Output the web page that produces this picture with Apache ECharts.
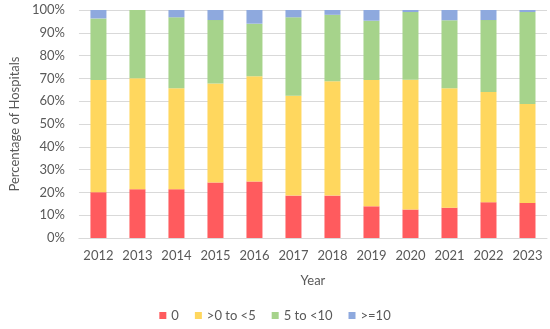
<!DOCTYPE html>
<html><head><meta charset="utf-8">
<script src="https://cdn.jsdelivr.net/npm/echarts@6/dist/echarts.min.js"></script>
<style>html,body{margin:0;padding:0;background:#fff}#c{width:550px;height:329px}</style>
</head><body><div id="c"></div>
<script>
const years = ['2012','2013','2014','2015','2016','2017','2018','2019','2020','2021','2022','2023'];
const zero = [20.1,21.4,21.4,24.3,24.8,18.6,18.6,13.9,12.5,13.3,15.7,15.4];
const lt5 = [49.2,48.7,44.3,43.5,46.1,43.8,50.1,55.4,56.9,52.4,48.3,43.4];
const lt10 = [27.0,29.9,31.1,27.8,23.1,34.4,29.2,26.0,29.7,29.8,31.6,40.3];
const ge10 = [3.7,0,3.2,4.4,6.0,3.2,2.1,4.7,0.9,4.5,4.4,0.9];
const seriesNames = ['0','>0 to <5','5 to <10','>=10'];
const colors = ['#FF5B5E','#FFD75E','#A6D38B','#8EA9DE'];
const font = 'Lato, "Open Sans", sans-serif';
const chart = echarts.init(document.getElementById('c'));
const data = [zero, lt5, lt10, ge10];
chart.setOption({
  animation:false,
  textStyle:{fontFamily:font,color:'#595959'},
  grid:{left:69,right:3,top:10,bottom:91},
  legend:{bottom:2,left:'center',itemWidth:7,itemHeight:7,itemGap:16,icon:'rect',
    textStyle:{fontFamily:font,fontSize:13,color:'#595959'},data:seriesNames},
  xAxis:{type:'category',data:years,name:'Year',nameLocation:'middle',nameGap:36,
    nameTextStyle:{fontFamily:font,fontSize:13,color:'#595959'},
    axisLine:{lineStyle:{color:'#D9D9D9'}},axisTick:{show:false},
    axisLabel:{interval:0,fontFamily:font,fontSize:13,color:'#595959',margin:11}},
  yAxis:{type:'value',min:0,max:100,interval:10,name:'Percentage of Hospitals',nameLocation:'middle',nameGap:50,
    nameTextStyle:{fontFamily:font,fontSize:13,color:'#595959'},
    axisLabel:{formatter:'{value}%',fontFamily:font,fontSize:13,color:'#595959',margin:14},
    splitLine:{lineStyle:{color:'#D9D9D9'}},axisLine:{show:false},axisTick:{show:false}},
  series:seriesNames.map((n,i)=>({name:n,type:'bar',stack:'t',barWidth:16,data:data[i],itemStyle:{color:colors[i]}}))
});
</script></body></html>
